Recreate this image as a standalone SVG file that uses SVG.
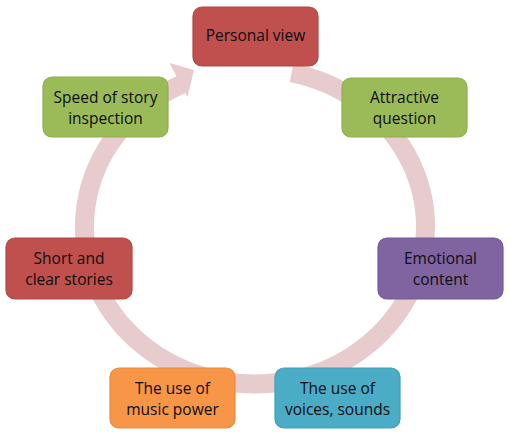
<svg xmlns="http://www.w3.org/2000/svg" width="510" height="437" viewBox="0 0 510 437">
<style>
.box{stroke-width:1.2}
.t{font-family:"Open Sans","Noto Sans",sans-serif;font-size:15.5px;fill:#0d0d0d;text-anchor:middle}
.ring{fill:none;stroke:#E8CBCC;stroke-width:19}
</style>
<rect width="510" height="437" fill="#ffffff"/>
<g id="connectors">
<path class="ring" d="M291.6,72.7 A170.5,157.5 0 1 1 182.9,83.8"/>
<polygon points="169.5,63 194,70 187.5,97" fill="#E8CBCC"/>
</g>
<g id="n1"><rect class="box" x="193" y="7" width="125" height="59" rx="9" fill="#C0504D" stroke="#B04845"/><text class="t" x="255.5" y="41">Personal view</text></g>
<g id="n2"><rect class="box" x="342" y="78" width="125" height="59" rx="9" fill="#9BBB59" stroke="#8FAE50"/><text class="t" x="404.5" y="103">Attractive</text><text class="t" x="404.5" y="124">question</text></g>
<g id="n3"><rect class="box" x="378" y="238" width="125" height="61" rx="9" fill="#8064A2" stroke="#735895"/><text class="t" x="440.5" y="264">Emotional</text><text class="t" x="440.5" y="285">content</text></g>
<g id="n4"><rect class="box" x="275" y="368" width="125" height="60" rx="9" fill="#4BACC6" stroke="#419FB8"/><text class="t" x="337.5" y="394">The use of</text><text class="t" x="337.5" y="415">voices, sounds</text></g>
<g id="n5"><rect class="box" x="110" y="368" width="125" height="60" rx="9" fill="#F79646" stroke="#E8893C"/><text class="t" x="172.5" y="394">The use of</text><text class="t" x="172.5" y="415">music power</text></g>
<g id="n6"><rect class="box" x="6" y="238" width="126" height="61" rx="9" fill="#C0504D" stroke="#B04845"/><text class="t" x="69" y="264">Short and</text><text class="t" x="69" y="285">clear stories</text></g>
<g id="n7"><rect class="box" x="43" y="77" width="125" height="60" rx="9" fill="#9BBB59" stroke="#8FAE50"/><text class="t" x="105.5" y="103">Speed of story</text><text class="t" x="105.5" y="124">inspection</text></g>
</svg>
